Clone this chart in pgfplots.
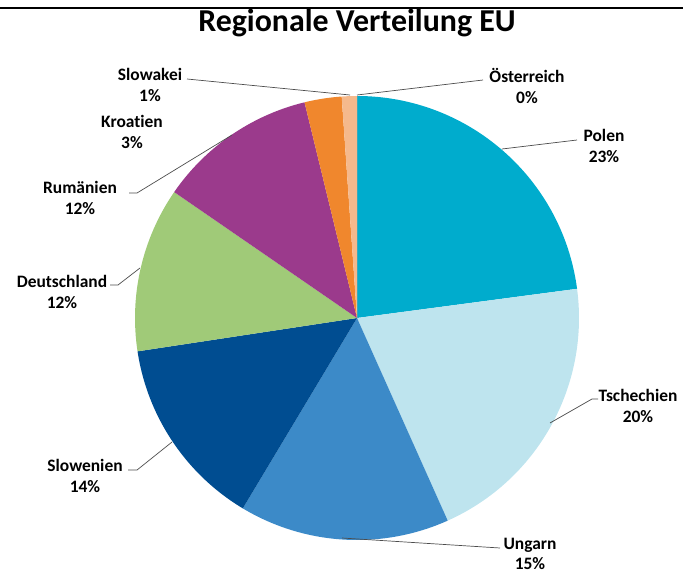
\documentclass[border=0pt]{standalone}
\usepackage{pgfplots}
\pgfplotsset{compat=1.18}
\usepackage{fontspec}
\setmainfont{Carlito}[Ligatures=NoCommon]
\definecolor{cPol}{RGB}{0,172,205}
\definecolor{cTsc}{RGB}{190,228,238}
\definecolor{cUng}{RGB}{60,138,200}
\definecolor{cSlo}{RGB}{0,77,145}
\definecolor{cDeu}{RGB}{160,202,120}
\definecolor{cRum}{RGB}{155,58,140}
\definecolor{cKro}{RGB}{240,135,45}
\definecolor{cSlk}{RGB}{245,185,140}
\definecolor{cOst}{RGB}{240,150,120}
% shares in percent (clockwise from 12 o'clock)
\def\cum{0}
\def\slices{}
\foreach \v/\c in {22.9/cPol,20.4/cTsc,15.3/cUng,14.0/cSlo,12.0/cDeu,11.6/cRum,2.7/cKro,1.1/cSlk,0.0/cOst}{%
  \pgfmathsetmacro\a{90-3.6*\cum}%
  \pgfmathsetmacro\b{90-3.6*(\cum+\v)}%
  \pgfmathsetmacro\n{\cum+\v}%
  \xdef\slices{\slices\noexpand\fill[\c] (axis cs:357,318) -- ++(\a:222bp) arc[start angle=\a, end angle=\b, radius=222bp] -- cycle;}%
  \xdef\cum{\n}%
}
\begin{document}
\begin{tikzpicture}
\begin{axis}[
  scale only axis, width=685bp, height=573bp,
  xmin=0, xmax=685, ymin=0, ymax=573, y dir=reverse,
  hide axis, clip=false,
]
\coordinate (BL) at (axis cs:0,573);
\coordinate (TR) at (axis cs:685,0);
\slices
\draw[black, line width=2bp] (axis cs:0,8) -- (axis cs:683,8);
\node[font=\bfseries\fontsize{32}{36}\selectfont] at (axis cs:357,23) {Regionale Verteilung EU};
\begin{scope}[every node/.style={font=\bfseries\fontsize{17.5}{21}\selectfont, align=center}]
\draw[gray!60!black, line width=0.7bp] (axis cs:502,149) -- (axis cs:577,140);
\node at (axis cs:604,146) {Polen\\23\%};
\draw[gray!60!black, line width=0.7bp] (axis cs:357,95) -- (axis cs:483,80);
\node at (axis cs:527,86) {Österreich\\0\%};
\draw[gray!60!black, line width=0.7bp] (axis cs:350,95) -- (axis cs:187,79);
\node at (axis cs:150,85) {Slowakei\\1\%};
\node at (axis cs:132,132) {Kroatien\\3\%};
\draw[gray!60!black, line width=0.7bp] (axis cs:232,135) -- (axis cs:137,193) -- (axis cs:129,193);
\node at (axis cs:80,198) {Rumänien\\12\%};
\draw[gray!60!black, line width=0.7bp] (axis cs:140,268) -- (axis cs:118,285) -- (axis cs:110,285);
\node at (axis cs:62,292) {Deutschland\\12\%};
\draw[gray!60!black, line width=0.7bp] (axis cs:172,442) -- (axis cs:137,470) -- (axis cs:128,470);
\node at (axis cs:85,476) {Slowenien\\14\%};
\draw[gray!60!black, line width=0.7bp] (axis cs:550,423) -- (axis cs:592,399) -- (axis cs:598,399);
\node at (axis cs:638,406) {Tschechien\\20\%};
\draw[gray!60!black, line width=0.7bp] (axis cs:342,538) -- (axis cs:500,548);
\node[font=\bfseries\fontsize{17.5}{19.5}\selectfont] at (axis cs:530,554) {Ungarn\\15\%};
\end{scope}
\end{axis}
\pgfresetboundingbox
\useasboundingbox (BL) rectangle (TR);
\end{tikzpicture}
\end{document}
